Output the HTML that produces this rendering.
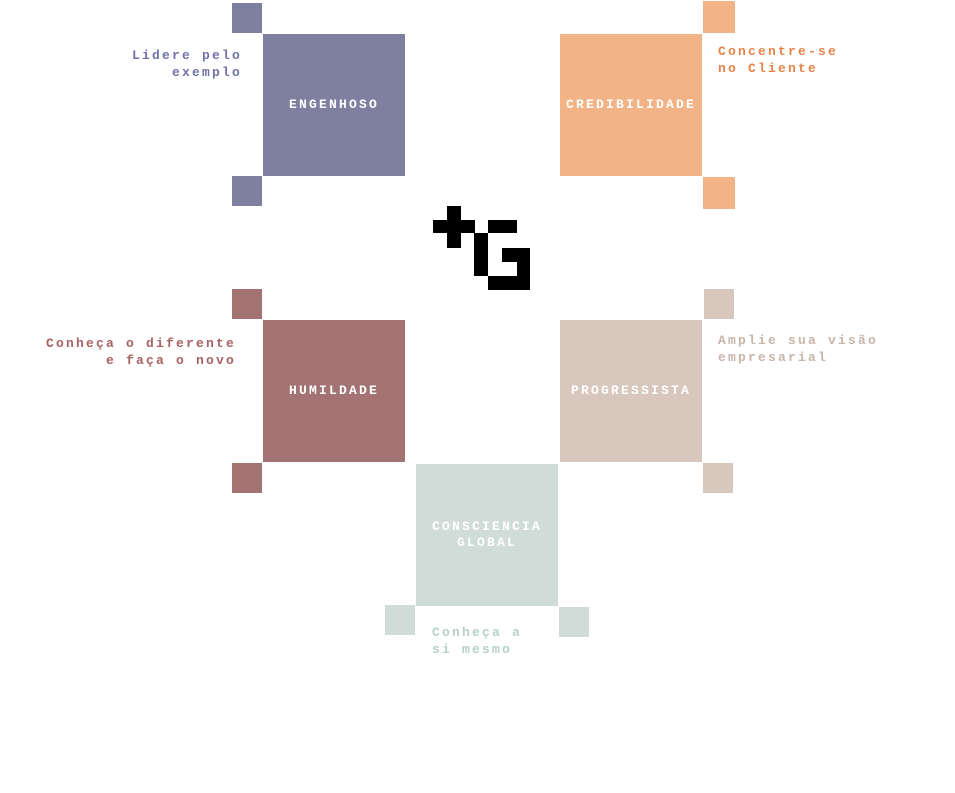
<!DOCTYPE html>
<html><head><meta charset="utf-8"><style>
body{margin:0;width:955px;height:793px;background:#fff;position:relative;overflow:hidden;font-family:"Liberation Mono",monospace;}
div{position:absolute;}
.b{width:142px;height:142px;color:#fff;font-weight:bold;font-size:13px;letter-spacing:2.2px;display:flex;align-items:center;justify-content:center;text-align:center;line-height:16px;}
.s{width:30px;height:30px;}
.t{font-size:13px;letter-spacing:2.2px;line-height:17px;font-weight:bold;white-space:pre;}
.k{background:#000;}
</style></head><body>
<div class="s" style="left:232px;top:3px;background:#7f7fa0"></div>
<div class="b" style="left:263px;top:34px;background:#7f7fa0">ENGENHOSO</div>
<div class="s" style="left:232px;top:176px;background:#7f7fa0"></div>
<div class="t" style="right:713px;top:47px;text-align:right;color:#7272a8">Lidere pelo
exemplo</div>

<div class="s" style="left:703px;top:1px;width:32px;height:32px;background:#f2b386"></div>
<div class="b" style="left:560px;top:34px;background:#f2b386">CREDIBILIDADE</div>
<div class="s" style="left:703px;top:177px;width:32px;height:32px;background:#f2b386"></div>
<div class="t" style="left:718px;top:43px;color:#e8844a">Concentre-se
no Cliente</div>

<div class="s" style="left:232px;top:289px;background:#a37272"></div>
<div class="b" style="left:263px;top:320px;background:#a37272">HUMILDADE</div>
<div class="s" style="left:232px;top:463px;background:#a37272"></div>
<div class="t" style="right:719px;top:335px;text-align:right;color:#a86262">Conheça o diferente
e faça o novo</div>

<div class="s" style="left:704px;top:289px;background:#d8c7bd"></div>
<div class="b" style="left:560px;top:320px;background:#d8c7bd">PROGRESSISTA</div>
<div class="s" style="left:703px;top:463px;background:#d8c7bd"></div>
<div class="t" style="left:718px;top:332px;color:#c8b5aa">Amplie sua visão
empresarial</div>

<div class="b" style="left:416px;top:464px;background:#cfdcd7">CONSCIENCIA<br>GLOBAL</div>
<div class="s" style="left:385px;top:605px;background:#cfdcd7"></div>
<div class="s" style="left:559px;top:607px;background:#cfdcd7"></div>
<div class="t" style="left:432px;top:624px;color:#b5d0c6">Conheça a
si mesmo</div>

<div class="k" style="left:447px;top:206px;width:14px;height:42px"></div>
<div class="k" style="left:433px;top:220px;width:42px;height:13px"></div>
<div class="k" style="left:474px;top:233px;width:14px;height:43px"></div>
<div class="k" style="left:488px;top:220px;width:29px;height:13px"></div>
<div class="k" style="left:502px;top:248px;width:28px;height:14px"></div>
<div class="k" style="left:517px;top:248px;width:13px;height:42px"></div>
<div class="k" style="left:488px;top:276px;width:42px;height:14px"></div>
</body></html>
